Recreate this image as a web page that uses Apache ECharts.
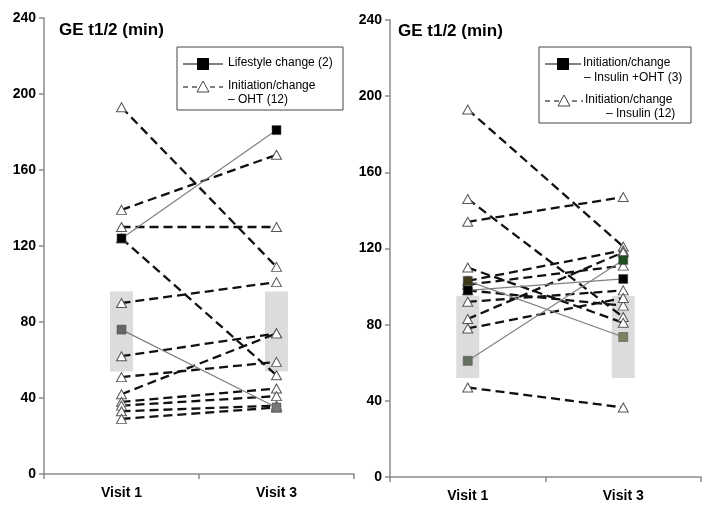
<!DOCTYPE html>
<html>
<head>
<meta charset="utf-8">
<script src="https://cdn.jsdelivr.net/npm/echarts@6/dist/echarts.min.js"></script>
<style>html,body{margin:0;padding:0;background:#fff}#c{width:711px;height:514px}</style>
</head>
<body>
<div id="c"></div>
<script>
// ---- data ----
const categories = ['Visit 1', 'Visit 3'];
const yTicks = [0, 40, 80, 120, 160, 200, 240];
// Left panel: Initiation/change – OHT (12)
const leftOhtV1 = [193, 139, 130, 124, 90, 62, 51, 42, 38, 36, 33, 29];
const leftOhtV3 = [109, 168, 130, 52, 101, 74, 59, 74, 45, 41, 36, 35];
// Left panel: Lifestyle change (2)
const leftLifeV1 = [124, 76];
const leftLifeV3 = [181, 35];
// Right panel: Initiation/change – Insulin (12)
const rightInsV1 = [193, 146, 134, 110, 103, 101, 98, 92, 83, 78, 47];
const rightInsV3 = [121, 84, 147, 81, 119, 111, 90, 98, 118, 94, 36.5];
// Right panel: Initiation/change – Insulin + OHT (3)
const rightComboV1 = [103, 98, 61];
const rightComboV3 = [73.5, 104, 114];
// Shaded reference ranges [low, high]
const leftRange = [54, 96];
const rightRange = [52, 95];

// ---- colours for square markers ----
const leftLifeColors = [['#000000', '#000000'], ['#666666', '#777777']];
const rightComboColors = [['#3b3b1c', '#7f8062'], ['#000000', '#000000'], ['#66705e', '#1f4d1f']];

const FONT = 'Liberation Sans, Arial, sans-serif';
const chart = echarts.init(document.getElementById('c'), null, {renderer: 'canvas'});

function xAxis(gi) {
  return {
    type: 'category', gridIndex: gi, data: categories, boundaryGap: true,
    axisLine: {lineStyle: {color: '#8a8a8a', width: 1.5}},
    axisTick: {show: true, interval: 0, length: 5, lineStyle: {color: '#8a8a8a', width: 1.5}},
    axisLabel: {color: '#000', fontWeight: 'bold', fontSize: 14, fontFamily: FONT, margin: 12},
    splitLine: {show: false}
  };
}
function yAxis(gi) {
  return {
    type: 'value', gridIndex: gi, min: yTicks[0], max: yTicks[yTicks.length - 1], interval: 40,
    axisLine: {show: true, lineStyle: {color: '#8a8a8a', width: 1.5}},
    axisTick: {show: true, length: 5, lineStyle: {color: '#8a8a8a', width: 1.5}},
    axisLabel: {color: '#000', fontWeight: 'bold', fontSize: 14, fontFamily: FONT, margin: 8},
    splitLine: {show: false}
  };
}

const series = [];
function addRange(gi, range) {
  series.push({type: 'bar', xAxisIndex: gi, yAxisIndex: gi, stack: 'r' + gi, barWidth: 23,
    data: [range[0], range[0]], itemStyle: {color: 'transparent'}, silent: true, z: 1});
  series.push({type: 'bar', xAxisIndex: gi, yAxisIndex: gi, stack: 'r' + gi, barWidth: 23,
    data: [range[1] - range[0], range[1] - range[0]], itemStyle: {color: '#dcdcdc'}, silent: true, z: 1});
}
function addTri(gi, v1, v3) {
  for (let i = 0; i < v1.length; i++) {
    series.push({type: 'line', xAxisIndex: gi, yAxisIndex: gi, data: [v1[i], v3[i]],
      symbol: 'triangle', symbolSize: [10, 9],
      lineStyle: {color: '#111', width: 2.3, type: [9, 5]},
      itemStyle: {color: '#fff', borderColor: '#555', borderWidth: 1}, z: 3});
  }
}
function addSq(gi, v1, v3, cols) {
  for (let i = 0; i < v1.length; i++) {
    series.push({type: 'line', xAxisIndex: gi, yAxisIndex: gi,
      data: [{value: v1[i], itemStyle: {color: cols[i][0]}}, {value: v3[i], itemStyle: {color: cols[i][1]}}],
      symbol: 'rect', symbolSize: 9,
      lineStyle: {color: '#808080', width: 1.2},
      itemStyle: {borderColor: '#444', borderWidth: 0.5}, z: 4});
  }
}
addRange(0, leftRange);
addRange(1, rightRange);
addTri(0, leftOhtV1, leftOhtV3);
addSq(0, leftLifeV1, leftLifeV3, leftLifeColors);
addTri(1, rightInsV1, rightInsV3);
addSq(1, rightComboV1, rightComboV3, rightComboColors);

const txt = (x, y, s, size, bold) => ({type: 'text', left: x, top: y,
  style: {text: s, fill: '#000', font: (bold ? 'bold ' : '') + size + 'px ' + FONT, textVerticalAlign: 'middle'}});
const graphic = [
  txt(59, 22, 'GE t1/2 (min)', 17, true),
  txt(398, 23, 'GE t1/2 (min)', 17, true),
  // left legend
  {type: 'rect', shape: {x: 177, y: 47, width: 166, height: 63}, style: {fill: '#fff', stroke: '#444', lineWidth: 1}, z: 10},
  {type: 'line', shape: {x1: 183, y1: 64, x2: 223, y2: 64}, style: {stroke: '#000', lineWidth: 1}, z: 11},
  {type: 'rect', shape: {x: 197, y: 58, width: 12, height: 12}, style: {fill: '#000'}, z: 12},
  {type: 'line', shape: {x1: 183, y1: 87, x2: 223, y2: 87}, style: {stroke: '#000', lineWidth: 1, lineDash: [5, 4]}, z: 11},
  {type: 'polygon', shape: {points: [[203, 81], [197, 92], [209, 92]]}, style: {fill: '#fff', stroke: '#444', lineWidth: 1}, z: 12},
  {type: 'text', left: 228, top: 57, style: {text: 'Lifestyle change (2)', font: '12px ' + FONT, fill: '#000'}, z: 12},
  {type: 'text', left: 228, top: 80, style: {text: 'Initiation/change', font: '12px ' + FONT, fill: '#000'}, z: 12},
  {type: 'text', left: 228, top: 94, style: {text: '– OHT (12)', font: '12px ' + FONT, fill: '#000'}, z: 12},
  // right legend
  {type: 'rect', shape: {x: 539, y: 47, width: 152, height: 76}, style: {fill: '#fff', stroke: '#444', lineWidth: 1}, z: 10},
  {type: 'line', shape: {x1: 545, y1: 64, x2: 581, y2: 64}, style: {stroke: '#000', lineWidth: 1}, z: 11},
  {type: 'rect', shape: {x: 557, y: 58, width: 12, height: 12}, style: {fill: '#000'}, z: 12},
  {type: 'line', shape: {x1: 545, y1: 101, x2: 583, y2: 101}, style: {stroke: '#000', lineWidth: 1, lineDash: [5, 4]}, z: 11},
  {type: 'polygon', shape: {points: [[564, 95], [558, 106], [570, 106]]}, style: {fill: '#fff', stroke: '#444', lineWidth: 1}, z: 12},
  {type: 'text', left: 583, top: 57, style: {text: 'Initiation/change', font: '12px ' + FONT, fill: '#000'}, z: 12},
  {type: 'text', left: 584, top: 72, style: {text: '– Insulin +OHT (3)', font: '12px ' + FONT, fill: '#000'}, z: 12},
  {type: 'text', left: 585, top: 94, style: {text: 'Initiation/change', font: '12px ' + FONT, fill: '#000'}, z: 12},
  {type: 'text', left: 606, top: 108, style: {text: '– Insulin (12)', font: '12px ' + FONT, fill: '#000'}, z: 12}
];

chart.setOption({
  animation: false,
  backgroundColor: '#fff',
  grid: [
    {left: 44, top: 18, width: 310, height: 456},
    {left: 390, top: 20, width: 311, height: 457}
  ],
  xAxis: [xAxis(0), xAxis(1)],
  yAxis: [yAxis(0), yAxis(1)],
  series: series,
  graphic: graphic
});
</script>
</body>
</html>
